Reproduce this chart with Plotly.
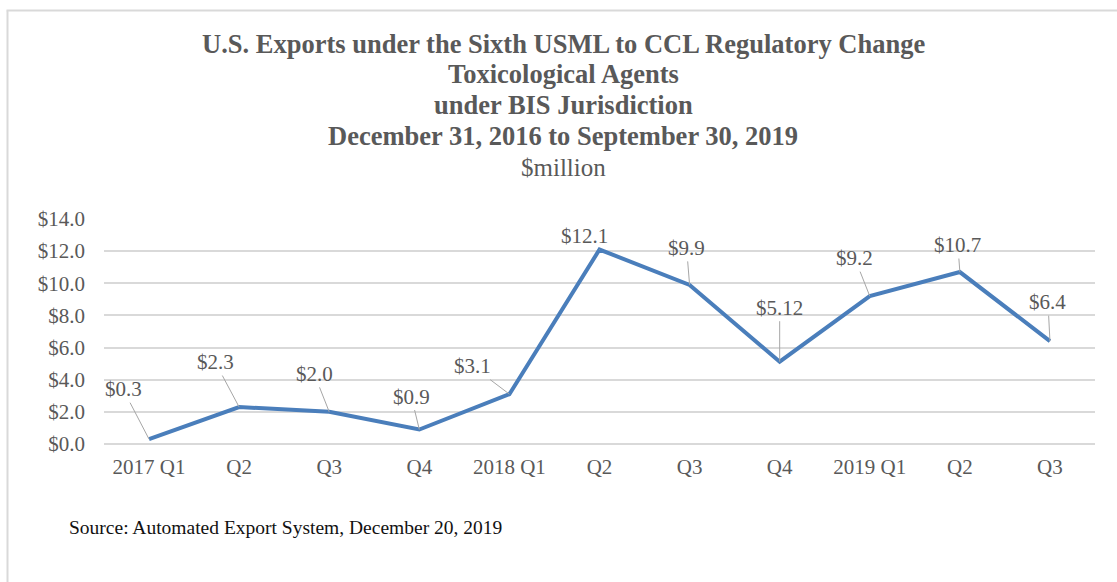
import plotly.graph_objects as go

quarters = ["2017 Q1", "Q2", "Q3", "Q4", "2018 Q1", "Q2", "Q3", "Q4", "2019 Q1", "Q2", "Q3"]
exports = [0.3, 2.3, 2.0, 0.9, 3.1, 12.1, 9.9, 5.12, 9.2, 10.7, 6.4]
y_ticks = [0, 2, 4, 6, 8, 10, 12, 14]
y_tick_labels = ["$%.1f" % t for t in y_ticks]

title_lines = [
    "U.S. Exports under the Sixth USML to CCL Regulatory Change",
    "Toxicological Agents",
    "under BIS Jurisdiction",
    "December 31, 2016 to September 30, 2019",
]
subtitle = "$million"
source_note = "Source: Automated Export System, December 20, 2019"

# label offsets (pixels) for data-label leader lines
label_dx = [-26, -24, -15, -8, -37, -15, -3, 0, -15, -2, -2]
label_dy = [-50, -45, -38, -33, -28, -14, -37, -54, -38, -27, -39]

W, H = 1117, 582
L, R, T, B = 104, 22, 219, 138
pw, ph = W - L - R, H - T - B

FONT = "Liberation Serif, Times New Roman, serif"
GRAY = "#595959"

def px_x(p):
    return (p - L) / pw

def px_y(p):
    return (H - B - p) / ph

xs = list(range(len(quarters)))

fig = go.Figure()
fig.add_trace(go.Scatter(
    x=xs, y=exports, mode="lines",
    line=dict(color="#4A7EBB", width=4),
    hoverinfo="skip", showlegend=False,
))

for i, v in enumerate(exports):
    fig.add_annotation(
        x=xs[i], y=v, xref="x", yref="y",
        text="$" + str(v), showarrow=True,
        ax=label_dx[i], ay=label_dy[i],
        arrowhead=0, arrowwidth=1, arrowcolor="#A6A6A6", standoff=0,
        font=dict(family=FONT, size=21, color=GRAY),
    )

# title lines (baselines in reference ~53, 83, 114, 145, 175)
title_centers = [44, 74, 105, 136]
for txt, cy in zip(title_lines, title_centers):
    fig.add_annotation(
        xref="paper", yref="paper", x=px_x(563), y=px_y(cy),
        xanchor="center", yanchor="middle", showarrow=False,
        text="<b>" + txt + "</b>",
        font=dict(family=FONT, size=26.5, color=GRAY),
    )
fig.add_annotation(
    xref="paper", yref="paper", x=px_x(563), y=px_y(167),
    xanchor="center", yanchor="middle", showarrow=False,
    text=subtitle, font=dict(family=FONT, size=25, color=GRAY),
)

border = "#D9D9D9"
fig.add_shape(type="line", xref="paper", yref="paper",
              x0=px_x(7.5), x1=px_x(7.5), y0=px_y(600), y1=px_y(10.5),
              line=dict(color=border, width=2))
fig.add_shape(type="line", xref="paper", yref="paper",
              x0=px_x(6.5), x1=px_x(1130), y0=px_y(10.5), y1=px_y(10.5),
              line=dict(color=border, width=2))

fig.add_annotation(
    xref="paper", yref="paper", x=px_x(67), y=px_y(527),
    xanchor="left", yanchor="middle", showarrow=False,
    text=source_note,
    font=dict(family=FONT, size=19.5, color="#111111"),
)

fig.update_layout(
    width=W, height=H,
    margin=dict(l=L, r=R, t=T, b=B),
    paper_bgcolor="white", plot_bgcolor="white",
    xaxis=dict(
        tickmode="array", tickvals=xs, ticktext=quarters,
        range=[-0.5, len(xs) - 0.5], showgrid=False, zeroline=False,
        showline=False, ticks="",
        tickfont=dict(family=FONT, size=21, color=GRAY),
        ticklabelstandoff=8,
    ),
    yaxis=dict(
        range=[0, 14], tickmode="array", tickvals=y_ticks, ticktext=y_tick_labels,
        showgrid=True, gridcolor="#D9D9D9", gridwidth=1.5,
        zeroline=True, zerolinecolor="#D9D9D9", zerolinewidth=1.5,
        showline=False, ticks="",
        tickfont=dict(family=FONT, size=21, color=GRAY),
        ticklabelstandoff=18,
    ),
)

fig.write_html("out.html")
